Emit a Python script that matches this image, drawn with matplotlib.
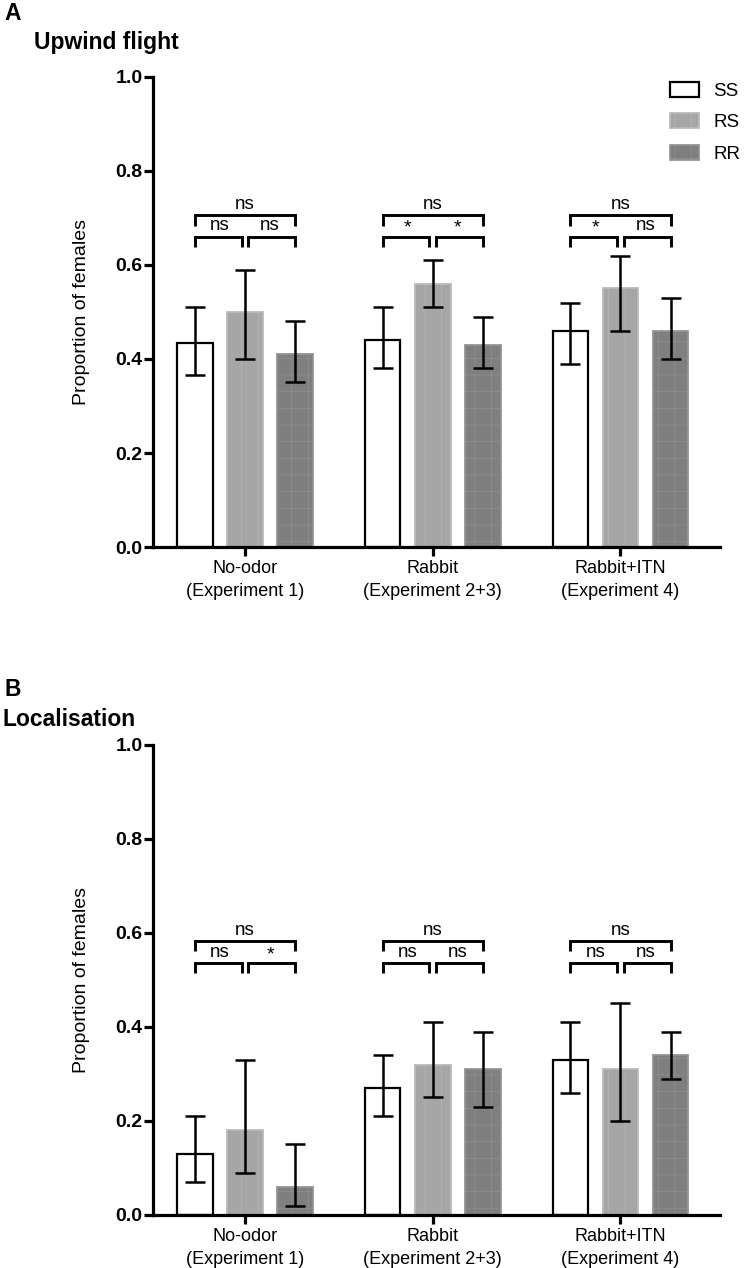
import matplotlib
matplotlib.use("Agg")
import matplotlib.pyplot as plt
import numpy as np

plt.rcParams['font.family'] = ['Liberation Sans', 'DejaVu Sans']
plt.rcParams['hatch.linewidth'] = 0.4

categories = ["No-odor\n(Experiment 1)", "Rabbit\n(Experiment 2+3)", "Rabbit+ITN\n(Experiment 4)"]
genotypes = ["SS", "RS", "RR"]

# Panel A: Upwind flight  (mean, lower CI, upper CI) per genotype across categories
upwind_mean = {"SS": [0.435, 0.44, 0.46], "RS": [0.50, 0.56, 0.55], "RR": [0.41, 0.43, 0.46]}
upwind_low = {"SS": [0.365, 0.38, 0.39], "RS": [0.40, 0.51, 0.46], "RR": [0.35, 0.38, 0.40]}
upwind_high = {"SS": [0.51, 0.51, 0.52], "RS": [0.59, 0.61, 0.62], "RR": [0.48, 0.49, 0.53]}
upwind_sig = [("ns", "ns", "ns"), ("*", "*", "ns"), ("*", "ns", "ns")]  # (SS-RS, RS-RR, SS-RR)

# Panel B: Localisation
local_mean = {"SS": [0.13, 0.27, 0.33], "RS": [0.18, 0.32, 0.31], "RR": [0.06, 0.31, 0.34]}
local_low = {"SS": [0.07, 0.21, 0.26], "RS": [0.09, 0.25, 0.20], "RR": [0.02, 0.23, 0.29]}
local_high = {"SS": [0.21, 0.34, 0.41], "RS": [0.33, 0.41, 0.45], "RR": [0.15, 0.39, 0.39]}
local_sig = [("ns", "*", "ns"), ("ns", "ns", "ns"), ("ns", "ns", "ns")]

yticks = [0.0, 0.2, 0.4, 0.6, 0.8, 1.0]
ytick_labels = ["0.0", "0.2", "0.4", "0.6", "0.8", "1.0"]

styles = {
    "SS": dict(facecolor="white", edgecolor="black", linewidth=1.6, hatch=None),
    "RS": dict(facecolor="#a6a6a6", edgecolor="#bababa", linewidth=1.3, hatch="|"),
    "RR": dict(facecolor="#7f7f7f", edgecolor="#949494", linewidth=1.3, hatch="+"),
}

offset = 0.267
width = 0.19

fig = plt.figure(figsize=(7.45, 12.68), dpi=100)


def draw_panel(rect, means, lows, highs, sigs, br_top, br_low, letter, title, letter_y, title_x, title_y, show_legend):
    ax = fig.add_axes(rect)
    x = np.arange(len(categories))
    handles = []
    for i, g in enumerate(genotypes):
        xs = x + (i - 1) * offset
        st = styles[g]
        b = ax.bar(xs, means[g], width=width, facecolor=st["facecolor"], edgecolor=st["edgecolor"],
                   linewidth=st["linewidth"], hatch=st["hatch"], zorder=2, label=g)
        handles.append(b)
        m = np.array(means[g])
        lo = m - np.array(lows[g])
        hi = np.array(highs[g]) - m
        ax.errorbar(xs, m, yerr=[lo, hi], fmt='none', ecolor='black', elinewidth=1.8,
                    capsize=7.5, capthick=1.8, zorder=3)
    # significance brackets
    leg = 0.022
    gap = 0.018
    for gi, (s1, s2, s3) in enumerate(sigs):
        xl, xm, xr = gi - offset, gi, gi + offset
        kw = dict(color='black', lw=2.1, solid_capstyle='butt', solid_joinstyle='miter', clip_on=False)
        ax.plot([xl, xl, xm - gap, xm - gap], [br_low - leg, br_low, br_low, br_low - leg], **kw)
        ax.plot([xm + gap, xm + gap, xr, xr], [br_low - leg, br_low, br_low, br_low - leg], **kw)
        ax.plot([xl, xl, xr, xr], [br_top - leg, br_top, br_top, br_top - leg], **kw)
        for txt, xc, yb in [(s1, (xl + xm) / 2, br_low), (s2, (xm + xr) / 2, br_low), (s3, xm, br_top)]:
            if txt == "*":
                ax.text(xc, yb + 0.0, txt, ha='center', va='bottom', fontsize=14)
            else:
                ax.text(xc, yb + 0.005, txt, ha='center', va='bottom', fontsize=13.5)
    ax.set_xlim(-0.49, 2.53)
    ax.set_ylim(0, 1.0)
    ax.set_yticks(yticks)
    ax.set_yticklabels(ytick_labels, fontsize=14, fontweight='bold')
    ax.set_xticks(x)
    ax.set_xticklabels(categories, fontsize=13, linespacing=1.45)
    ax.spines['top'].set_visible(False)
    ax.spines['right'].set_visible(False)
    ax.spines['left'].set_linewidth(2.3)
    ax.spines['bottom'].set_linewidth(2.3)
    ax.tick_params(axis='y', direction='out', length=6.5, width=2.3, pad=1)
    ax.tick_params(axis='x', direction='out', length=6.5, width=2.3, pad=3)
    ax.set_ylabel("Proportion of females", fontsize=14, labelpad=18)
    fig.text(0.006, letter_y, letter, fontsize=16.5, fontweight='bold', va='center', ha='left')
    fig.text(title_x, title_y, title, fontsize=16.5, fontweight='bold', va='center', ha='left')
    if show_legend:
        ax.legend(handles=handles, labels=genotypes, loc='upper left', bbox_to_anchor=(0.912, 0.99),
                  frameon=False, fontsize=13.5, handlelength=1.55, handleheight=0.85,
                  labelspacing=0.72, handletextpad=0.75, borderaxespad=0.0, borderpad=0.0)
    return ax


draw_panel([0.2054, 0.5686, 0.761, 0.3707], upwind_mean, upwind_low, upwind_high, upwind_sig,
           br_top=0.706, br_low=0.660, letter="A", title="Upwind flight",
           letter_y=1 - 13 / 1268, title_x=0.045, title_y=1 - 42 / 1268, show_legend=True)
draw_panel([0.2054, 0.0418, 0.761, 0.3707], local_mean, local_low, local_high, local_sig,
           br_top=0.583, br_low=0.536, letter="B", title="Localisation",
           letter_y=1 - 690 / 1268, title_x=0.003, title_y=1 - 720 / 1268, show_legend=False)

fig.savefig("out.png", dpi=100)
